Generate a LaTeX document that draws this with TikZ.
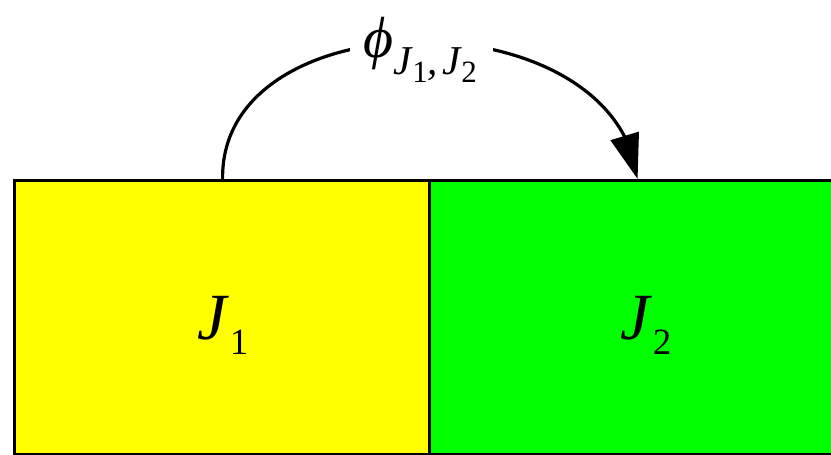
\documentclass[tikz,border=0pt]{standalone}
\usepackage{fontspec}
\setmainfont{Liberation Serif}
\usetikzlibrary{arrows.meta,bending}
\definecolor{boxyellow}{RGB}{255,255,0}
\definecolor{boxgreen}{RGB}{0,255,0}
\begin{document}
\begin{tikzpicture}[x=1pt,y=-1pt,
  box/.style={draw=black, line width=3.2pt, minimum width=416pt, minimum height=274pt, inner sep=0pt, anchor=north west},
  lbl/.style={inner sep=0pt, font=\fontsize{66}{70}\selectfont\itshape},
  arc/.style={draw=black, line width=3.2pt, -{Triangle[length=45pt,width=29pt]}}
  ]
\clip (0,0) rectangle (831,455);
\node[box, fill=boxyellow] (j1) at (13,179) {};
\node[box, fill=boxgreen] (j2) at (428,179) {};
\node[lbl] (t1) at (223,325) {J\kern3pt\raisebox{-15pt}{\fontsize{37}{40}\selectfont\upshape 1}};
\node[lbl] (t2) at (646,325) {J\kern3pt\raisebox{-15pt}{\fontsize{37}{40}\selectfont\upshape 2}};
\draw[arc] (j1.north) .. controls (220,-4) and (616,-4) .. (j2.north);
\node[fill=white, inner sep=0pt, minimum width=143pt, minimum height=30pt] (lab) at (421,47) {};
\node[inner sep=0pt] (phi) at (420,50) {{\fontsize{58}{62}\selectfont\itshape ϕ}\raisebox{-17pt}{\fontsize{41}{44}\selectfont\itshape J\kern1pt\raisebox{-8pt}{\fontsize{31}{34}\selectfont\upshape 1},\kern4pt J\kern1pt\raisebox{-8pt}{\fontsize{31}{34}\selectfont\upshape 2}}};
\end{tikzpicture}
\end{document}
